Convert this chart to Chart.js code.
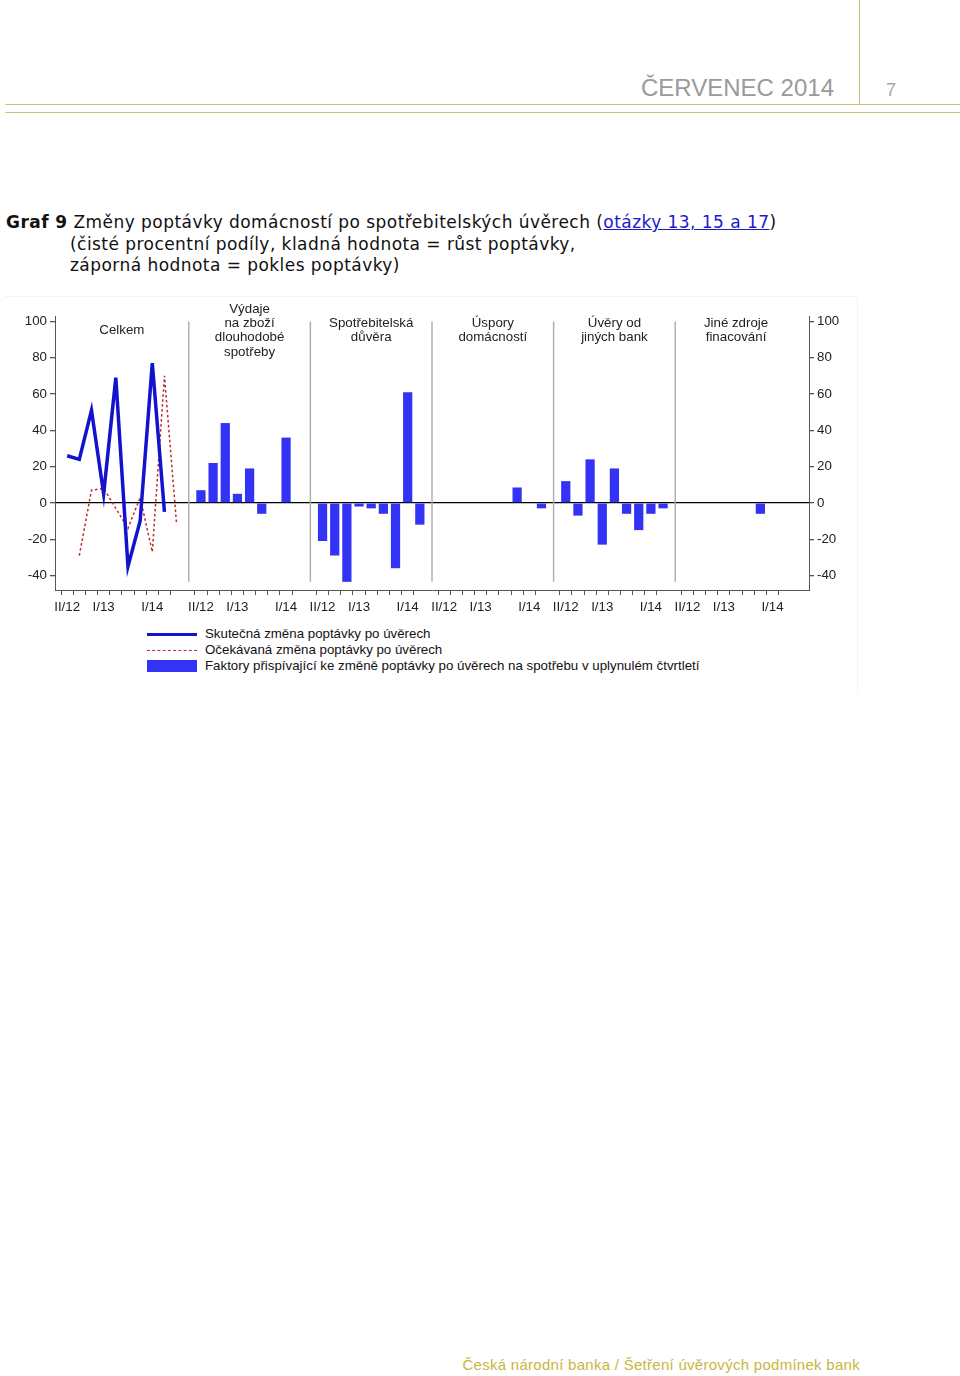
<!DOCTYPE html>
<html lang="cs">
<head>
<meta charset="utf-8">
<title>Graf 9</title>
<script src="https://cdn.jsdelivr.net/npm/chart.js@4.4.1/dist/chart.umd.min.js"></script>
<style>
  html, body { margin: 0; padding: 0; background: #fff; }
  body { width: 960px; height: 1376px; position: relative; overflow: hidden; font-family: "Liberation Sans", Arial, sans-serif; }
  .vline { position: absolute; left: 859px; top: 0; width: 1px; height: 104px; background: #cfc27a; }
  .hline { position: absolute; left: 5px; width: 955px; height: 1px; background: #cfc27a; }
  .month { position: absolute; right: 126px; top: 76px; font-size: 24px; line-height: 24px; color: #9a9a9a; white-space: nowrap; }
  .page { position: absolute; left: 886px; top: 81px; font-size: 18px; line-height: 18px; color: #a8a8a8; }
  .title { position: absolute; left: 6px; top: 212px; font-family: "DejaVu Sans", Verdana, sans-serif; font-size: 17px; line-height: 21.5px; letter-spacing: 0.45px; color: #111; white-space: nowrap; }
  .title b { font-weight: bold; }
  .title a { color: #1a1acc; text-decoration: underline; }
  .title .ind { padding-left: 64px; }
  .box { position: absolute; left: 5px; top: 296px; width: 852px; height: 397px; border-top: 1px solid #f3f3f3; border-right: 1px solid #f3f3f3; }
  canvas { position: absolute; left: 0; top: 0; }
  .legend { position: absolute; left: 142px; top: 329px; font-size: 13.3px; line-height: 16px; color: #111; }
  .row { display: flex; align-items: center; height: 16px; white-space: nowrap; }
  .sample { width: 50px; margin-right: 8px; }
  .s1 { height: 0; border-top: 3px solid #1212cf; }
  .s2 { height: 0; border-top: 1px dashed #b82a25; }
  .s3 { height: 12px; background: #3333f5; }
  .foot { position: absolute; right: 100px; top: 1357px; font-size: 15px; line-height: 15px; color: #c9b640; white-space: nowrap; letter-spacing: 0.28px; }
</style>
</head>
<body>
<div class="vline"></div>
<div class="hline" style="top:104px"></div>
<div class="hline" style="top:112px"></div>
<div class="month">ČERVENEC 2014</div>
<div class="page">7</div>

<div class="title">
  <div><b>Graf 9</b> Změny poptávky domácností po spotřebitelských úvěrech (<a>otázky 13, 15 a 17</a>)</div>
  <div class="ind">(čisté procentní podíly, kladná hodnota = růst poptávky,</div>
  <div class="ind">záporná hodnota = pokles poptávky)</div>
</div>

<div class="box">
  <canvas id="graf" width="853" height="320"></canvas>
  <div class="legend">
    <div class="row"><div class="sample s1"></div>Skutečná změna poptávky po úvěrech</div>
    <div class="row"><div class="sample s2"></div>Očekávaná změna poptávky po úvěrech</div>
    <div class="row"><div class="sample s3"></div>Faktory přispívající ke změně poptávky po úvěrech na spotřebu v uplynulém čtvrtletí</div>
  </div>
</div>

<div class="foot">Česká národní banka / Šetření úvěrových podmínek bank</div>

<script>
// quarters of every panel (the first panel also has the III/14 expectation)
const quarters = ['II/12', 'III/12', 'IV/12', 'I/13', 'II/13', 'III/13', 'IV/13', 'I/14', 'II/14', 'III/14'];
const shownQuarters = ['II/12', 'I/13', 'I/14'];
const yTicks = [-40, -20, 0, 20, 40, 60, 80, 100];

const panelTitles = [
    ['Celkem'],
    ['Výdaje', 'na zboží', 'dlouhodobé', 'spotřeby'],
    ['Spotřebitelská', 'důvěra'],
    ['Úspory', 'domácností'],
    ['Úvěry od', 'jiných bank'],
    ['Jiné zdroje', 'finacování']
];

// Celkem, II/12 .. III/14
const actualTotal = [26, 24, 51, 5, 69, -35, -10, 77, -5, null];
const expectedTotal = [null, -29, 7, 8, -3, -14, 3, -27, 70, -12];

// factors, II/12 .. II/14
const durableGoods = [7, 22, 44, 5, 19, -6, null, 36, null];
const consumerConfidence = [-21, -29, -43.5, -2, -3, -6, -36, 61, -12];
const householdSavings = [null, null, null, null, null, null, 8.5, null, -3];
const otherBanks = [12, -7, 24, -23, 19, -6, -15, -6, -3];
const otherFinancing = [null, null, null, null, null, null, -6, null, null];

const factorPanels = [durableGoods, consumerConfidence, householdSavings, otherBanks, otherFinancing];

// build the category axis: leading gap, Celkem, then separator + 9 quarters per panel
const labels = [''];
const panelStarts = [];
const separators = [];
panelStarts.push(labels.length);
quarters.forEach(q => labels.push(q));
factorPanels.forEach(() => {
    separators.push(labels.length);
    labels.push('');
    panelStarts.push(labels.length);
    quarters.slice(0, 9).forEach(q => labels.push(q));
});
labels.push('', '');

const blank = () => labels.map(() => null);
const actualData = blank();
const expectedData = blank();
const barData = blank();
actualTotal.forEach((v, i) => { actualData[panelStarts[0] + i] = v; });
expectedTotal.forEach((v, i) => { expectedData[panelStarts[0] + i] = v; });
factorPanels.forEach((vals, p) => {
    vals.forEach((v, i) => { barData[panelStarts[p + 1] + i] = v; });
});

const panelDecor = {
    id: 'panelDecor',
    beforeDatasetsDraw(chart) {
        const { ctx } = chart;
        const x = chart.scales.x, y = chart.scales.y;
        ctx.save();
        ctx.strokeStyle = '#ababab';
        ctx.lineWidth = 1.4;
        separators.forEach(s => {
            const px = x.getPixelForValue(s);
            ctx.beginPath();
            ctx.moveTo(px, y.getPixelForValue(100));
            ctx.lineTo(px, y.getPixelForValue(-43.5));
            ctx.stroke();
        });
        ctx.restore();
    },
    afterDraw(chart) {
        const { ctx } = chart;
        const x = chart.scales.x, y = chart.scales.y;
        const bounds = [0, ...separators, separators[separators.length - 1] + 10];
        ctx.save();
        ctx.font = '13.3px "Liberation Sans", Arial, sans-serif';
        ctx.fillStyle = '#222';
        ctx.textAlign = 'center';
        ctx.textBaseline = 'middle';
        panelTitles.forEach((lines, p) => {
            const cx = (x.getPixelForValue(bounds[p]) + x.getPixelForValue(bounds[p + 1])) / 2;
            const cy = y.getPixelForValue(95);
            lines.forEach((t, i) => {
                ctx.fillText(t, cx, cy + (i - (lines.length - 1) / 2) * 14.3);
            });
        });
        ctx.restore();
    }
};

Chart.defaults.font.family = '"Liberation Sans", Arial, sans-serif';
Chart.defaults.font.size = 13.3;
Chart.defaults.color = '#222';

const yAxis = (position, width) => ({
    type: 'linear',
    position: position,
    min: -48,
    max: 103,
    afterBuildTicks: s => { s.ticks = yTicks.map(v => ({ value: v })); },
    afterFit: s => { s.width = width; },
    border: { display: true, color: '#555', width: 1 },
    ticks: { padding: 3, color: '#222' },
    grid: {
        drawOnChartArea: position === 'left',
        color: ctx => (ctx.tick && ctx.tick.value === 0 ? '#000' : 'rgba(0,0,0,0)'),
        lineWidth: 1.3,
        tickColor: '#555',
        tickLength: 5
    }
});

new Chart(document.getElementById('graf'), {
    data: {
        labels: labels,
        datasets: [
            {
                type: 'line',
                label: 'Skutečná změna poptávky po úvěrech',
                data: actualData,
                borderColor: '#1212cf',
                borderWidth: 3.5,
                pointRadius: 0,
                tension: 0,
                order: 0
            },
            {
                type: 'line',
                label: 'Očekávaná změna poptávky po úvěrech',
                data: expectedData,
                borderColor: '#b82a25',
                borderWidth: 1.5,
                borderDash: [2.5, 2.5],
                pointRadius: 0,
                tension: 0,
                order: 1
            },
            {
                type: 'bar',
                label: 'Faktory přispívající ke změně poptávky po úvěrech na spotřebu v uplynulém čtvrtletí',
                data: barData,
                backgroundColor: '#3333f5',
                barPercentage: 0.76,
                categoryPercentage: 1,
                order: 2
            }
        ]
    },
    options: {
        responsive: false,
        animation: false,
        layout: { padding: { top: 19, left: 0, right: 0, bottom: 0 } },
        plugins: {
            legend: { display: false },
            tooltip: { enabled: false }
        },
        scales: {
            x: {
                type: 'category',
                offset: false,
                afterFit: s => { s.height = 27; },
                border: { display: true, color: '#555', width: 1 },
                grid: {
                    drawOnChartArea: false,
                    tickLength: 5,
                    tickColor: ctx => (labels[ctx.index] ? '#555' : 'rgba(0,0,0,0)')
                },
                ticks: {
                    autoSkip: false,
                    maxRotation: 0,
                    padding: 4,
                    color: '#222',
                    callback: (v, i) => (shownQuarters.includes(labels[i]) ? labels[i] : '')
                }
            },
            y: yAxis('left', 50),
            yRight: yAxis('right', 49)
        }
    },
    plugins: [panelDecor]
});
</script>
</body>
</html>
